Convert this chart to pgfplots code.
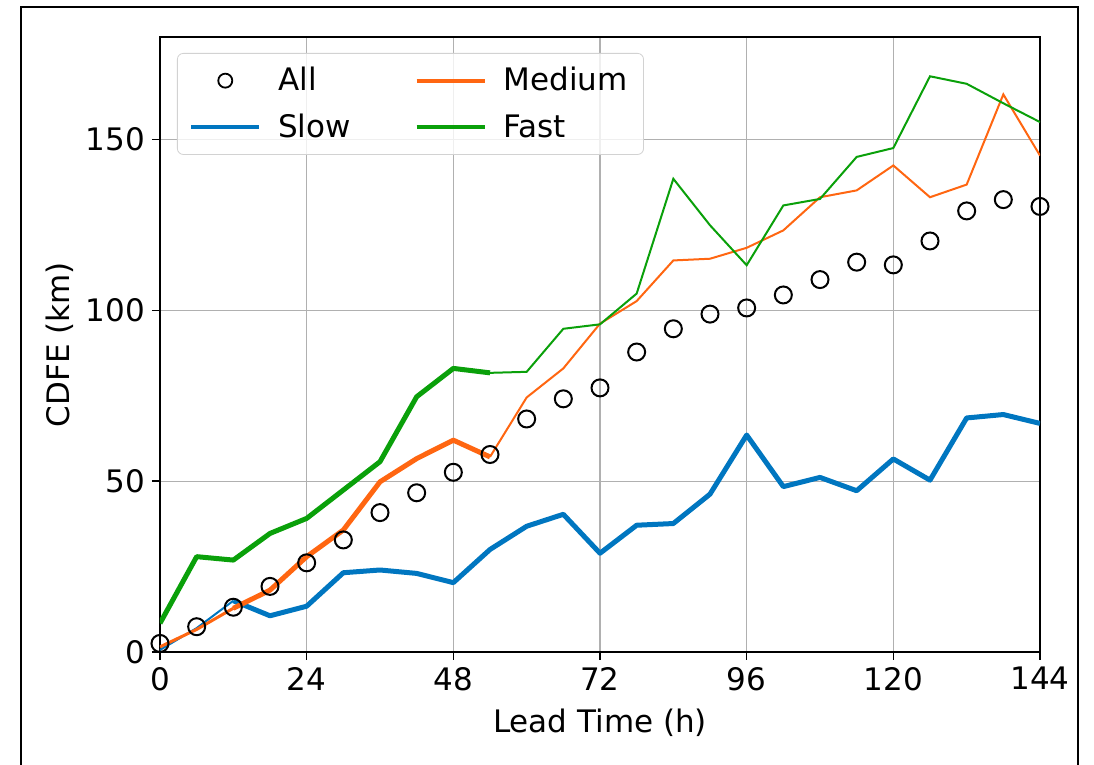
\documentclass[border=0pt]{standalone}
\usepackage{fontspec}
\setmainfont{DejaVu Sans}
\usepackage{pgfplots}
\pgfplotsset{compat=1.18}
\definecolor{cslow}{RGB}{0,118,192}
\definecolor{cmed}{RGB}{255,102,17}
\definecolor{cfast}{RGB}{10,160,10}
\definecolor{cgrid}{RGB}{176,176,176}
\pgfplotsset{
  linelegend/.style={legend image code/.code={\draw[##1] (0pt,0pt) -- (34pt,0pt);}},
  marklegend/.style={legend image code/.code={\draw[##1] plot coordinates {(17pt,0pt)};}},
}
\begin{document}
\begin{tikzpicture}
\begin{axis}[
  at={(0,0)}, anchor=south west,
  width=440pt, height=307.5pt, scale only axis,
  xmin=0, xmax=144, ymin=0, ymax=180,
  xtick={0,24,...,144}, ytick={0,50,100,150},
  grid=major, major grid style={cgrid, line width=0.6pt},
  axis line style={black, line width=0.8pt},
  tick style={black, line width=0.8pt},
  tick align=outside, major tick length=4pt,
  xtick pos=left, ytick pos=left,
  font=\fontsize{15.5}{18.6}\selectfont,
  /pgf/number format/assume math mode=true,
  xlabel={Lead Time (h)}, ylabel={CDFE (km)},
  xlabel style={at={(axis description cs:0.5,-0.1154)}, anchor=center},
  ylabel style={at={(axis description cs:-0.1136,0.5)}, anchor=center},
  legend columns=2,
  legend cell align=left,
  legend style={at={(axis description cs:0.0193,0.974)}, anchor=north west,
    draw=gray!35, rounded corners=3pt, fill=white, fill opacity=0.8, text opacity=1,
    font=\fontsize{15.5}{18.6}\selectfont,
    /tikz/every odd column/.append style={column sep=6.5pt},
    /tikz/every even column/.append style={column sep=30pt},
    row sep=6pt, inner xsep=6pt, inner ysep=5pt},
]
\addlegendimage{black, only marks, mark=o, mark size=3.5pt, line width=0.9pt, marklegend}
\addlegendentry{All}
\addlegendimage{cmed, line width=1.9pt, linelegend}
\addlegendentry{Medium}
\addlegendimage{cslow, line width=1.9pt, linelegend}
\addlegendentry{Slow}
\addlegendimage{cfast, line width=1.9pt, linelegend}
\addlegendentry{Fast}

% Slow
\addplot[forget plot, cslow, line width=1pt] coordinates {(0,0.6)(6,7.0)(12,15.0)};
\addplot[forget plot, cslow, line width=2.5pt, line join=round] coordinates {
(12,15.0)(18,10.6)(24,13.4)(30,23.2)(36,24.0)(42,23.0)(48,20.3)(54,30.0)(60,36.8)(66,40.3)
(72,28.9)(78,37.1)(84,37.6)(90,46.2)(96,63.5)(102,48.4)(108,51.1)(114,47.2)(120,56.5)
(126,50.3)(132,68.5)(138,69.5)(144,66.9)};
% Medium
\addplot[forget plot, cmed, line width=1.5pt] coordinates {(0,1.5)(6,6.6)(12,12.8)};
\addplot[forget plot, cmed, line width=2.5pt, line join=round] coordinates {
(12,12.8)(18,18.1)(24,27.9)(30,35.7)(36,49.8)(42,56.6)(48,62.0)(54,57.1)};
\addplot[forget plot, cmed, line width=1pt] coordinates {
(54,57.1)(60,74.5)(66,83.0)(72,96.1)(78,102.7)(84,114.6)(90,115.1)(96,118.3)(102,123.4)
(108,133.1)(114,135.1)(120,142.4)(126,133.1)(132,136.8)(138,163.2)(144,145.3)};
% Fast
\addplot[forget plot, cfast, line width=2.5pt, line join=round] coordinates {
(0,8.4)(6,27.9)(12,26.9)(18,34.7)(24,39.1)(30,47.4)(36,55.7)(42,74.7)(48,83.0)(54,81.7)};
\addplot[forget plot, cfast, line width=1pt] coordinates {
(54,81.7)(60,82.0)(66,94.6)(72,95.9)(78,104.9)(84,138.5)(90,124.9)(96,113.2)(102,130.7)
(108,132.6)(114,144.9)(120,147.5)(126,168.5)(132,166.3)(138,160.6)(144,155.1)};
% All
\addplot[forget plot, black, only marks, mark=o, mark size=4.25pt, line width=1pt] coordinates {
(0,2.5)(6,7.4)(12,13.1)(18,19.2)(24,26.1)(30,32.8)(36,40.8)(42,46.6)(48,52.6)(54,57.8)
(60,68.2)(66,74.1)(72,77.3)(78,87.8)(84,94.6)(90,98.9)(96,100.7)(102,104.5)(108,109.0)
(114,114.1)(120,113.3)(126,120.3)(132,129.1)(138,132.4)(144,130.4)};
\end{axis}
\draw[black, line width=1.3pt] (-69.5pt,-70pt) -- (-69.5pt,322.5pt) -- (459pt,322.5pt) -- (459pt,-70pt);
\pgfresetboundingbox
\path[use as bounding box] (-80pt,-56.5pt) rectangle (467pt,326pt);
\end{tikzpicture}
\end{document}
